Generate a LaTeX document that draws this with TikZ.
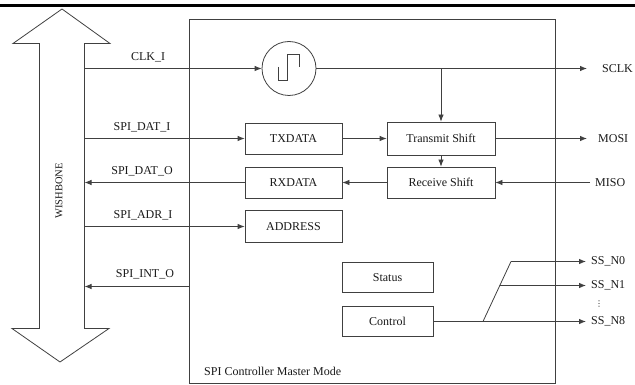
\documentclass[tikz,border=0pt]{standalone}
\usepackage{fontspec}
\setmainfont{Liberation Serif}
\newfontfamily\symfont{DejaVu Sans}
\usetikzlibrary{arrows.meta}
\usetikzlibrary{calc}

\tikzset{
  wire/.style={draw=black!75, line width=0.8pt},
  arr/.style={wire, -{Latex[length=7pt,width=5.5pt]}},
  blk/.style={wire, minimum height=31pt, inner sep=0pt, text=black!90,
    font=\fontsize{12}{14}\selectfont},
  sig/.style={inner sep=1pt, text=black!90, font=\fontsize{12}{14}\selectfont},
}

\begin{document}
\begin{tikzpicture}[x=1pt, y=-1pt]
      \useasboundingbox (0,0) rectangle (635,385);
      \draw[line width=2.5pt] (0,5.5) -- (635,5.5);

      % bus arrow on the left
      \draw[wire] (62,9) -- (110,43.5) -- (84.5,43.5) -- (84.5,328.5) -- (109,328.5) -- (60,362)
        -- (12,328.5) -- (39.5,328.5) -- (39.5,43.5) -- (13,43.5) -- cycle;
      \node[sig, rotate=90, font=\fontsize{10.5}{12}\selectfont] (wb) at (59,191) {WISHBONE};
      \coordinate (bus) at (84.5,0);

      % controller
      \node[wire, minimum width=366pt, minimum height=364pt, inner sep=0pt] (core) at (372,201.5) {};
      \node[sig, anchor=west] (mode) at (203,371) {SPI Controller Master Mode};

      \node[wire, circle, minimum size=54pt, inner sep=0pt] (clk) at (289,68.5) {};
      \draw[wire] ([shift={(-10.5,-1.5)}]clk.center) -- ++(0,13) -- ++(9,0) -- ++(0,-26)
        -- ++(12,0) -- ++(0,13);

      \node[blk, minimum width=97pt] (txd) at (293.5,138.5) {TXDATA};
      \node[blk, minimum width=108pt, minimum height=33pt] (txs) at (441,138.5) {Transmit Shift};
      \node[blk, minimum width=108pt] (rxs) at (441,182.5) {Receive Shift};
      \node[blk, minimum width=97pt] (rxd) at (293.5,182.5) {RXDATA};
      \node[blk, minimum width=97pt, minimum height=32pt] (adr) at (293.5,226.5) {ADDRESS};
      \node[blk, minimum width=91pt, minimum height=30pt] (stat) at (387.5,277.5) {Status};
      \node[blk, minimum width=91pt, minimum height=30pt] (ctl) at (387.5,321.5) {Control};

      % bus signals
      \node[sig] (lclk) at (148,57) {CLK\_I};
      \node[sig] (ldi) at (142,127) {SPI\_DAT\_I};
      \node[sig] (ldo) at (142,171) {SPI\_DAT\_O};
      \node[sig] (ladr) at (143,215) {SPI\_ADR\_I};
      \node[sig] (lint) at (145,274) {SPI\_INT\_O};
      \coordinate (irq) at (189,286.5);

      \draw[arr] (bus |- clk) -- (clk);
      \draw[arr] (bus |- txd) -- (txd);
      \draw[arr] (rxd) -- (bus |- rxd);
      \draw[arr] (bus |- adr) -- (adr);
      \draw[arr] (irq) -- (bus |- irq);

      % shift path
      \draw[arr] (txd) -- (txs);
      \draw[arr] (txs) -- (rxs);
      \draw[arr] (rxs) -- (rxd);
      \draw[arr] (txs.north |- clk) -- (txs);

      % SPI pins
      \node[sig, anchor=west] (sclk) at (601,68.5) {SCLK};
      \node[sig, anchor=west] (mosi) at (597,138.5) {MOSI};
      \node[sig, anchor=west] (miso) at (594,182.5) {MISO};
      \draw[arr] (clk) -- ([xshift=-14pt]sclk.west);
      \draw[arr] (txs) -- ([xshift=-10pt]mosi.west);
      \draw[arr] ([xshift=-4pt]miso.west) -- (rxs);

      % slave selects
      \node[sig, anchor=west] (ss0) at (590,261.5) {SS\_N0};
      \node[sig, anchor=west] (ss1) at (590,285.5) {SS\_N1};
      \node[sig, inner sep=0pt, font=\symfont\fontsize{8}{9}\selectfont] (dots) at (599,304) {⋮};
      \node[sig, anchor=west] (ss8) at (590,321.5) {SS\_N8};
      \coordinate (fan) at (483,321.5);
      \coordinate (fantop) at (511,261.5);
      \coordinate (fanmid) at ($(fan)!0.6!(fantop)$);
      \draw[wire] (ctl) -- (fan) -- (fantop);
      \draw[arr] (fantop) -- ([xshift=-4pt]ss0.west);
      \draw[arr] (fanmid) -- ([xshift=-4pt]ss1.west);
      \draw[arr] (fan) -- ([xshift=-4pt]ss8.west);
\end{tikzpicture}
\end{document}
